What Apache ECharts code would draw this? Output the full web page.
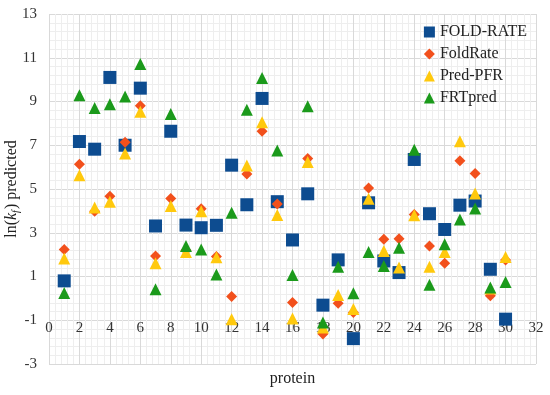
<!DOCTYPE html>
<html><head><meta charset="utf-8">
<script src="https://cdn.jsdelivr.net/npm/echarts@6/dist/echarts.min.js"></script>
<style>html,body{margin:0;padding:0;background:#fff}#c{width:550px;height:395px}</style>
</head><body><div id="c"></div>
<script>
const proteins = [1,2,3,4,5,6,7,8,9,10,11,12,13,14,15,16,17,18,19,20,21,22,23,24,25,26,27,28,29,30];
const foldRATE = [0.8,7.17,6.82,10.1,7.0,9.61,3.31,7.64,3.35,3.23,3.34,6.09,4.28,9.14,4.42,2.67,4.78,-0.31,1.76,-1.84,4.37,1.71,1.18,6.35,3.87,3.15,4.26,4.45,1.33,-0.95];
const foldRate = [2.24,6.13,3.98,4.67,7.14,8.81,1.94,4.57,2.2,4.1,1.92,0.09,5.69,7.64,4.31,-0.19,6.39,-1.63,-0.22,-0.64,5.05,2.7,2.73,3.83,2.4,1.61,6.29,5.71,0.12,1.76];
const predPFR = [1.82,5.63,4.15,4.42,6.62,8.53,1.61,4.22,2.12,3.98,1.88,-0.95,6.07,8.05,3.81,-0.92,6.24,-1.33,0.15,-0.49,4.55,2.17,1.41,3.8,1.45,2.12,7.18,4.8,0.45,1.89];
const frtPred = [0.25,9.29,8.7,8.88,9.23,10.72,0.42,8.43,2.4,2.24,1.09,3.92,8.62,10.08,6.76,1.07,8.78,-1.1,1.45,0.24,2.12,1.48,2.32,6.8,0.62,2.47,3.61,4.11,0.5,0.75];
const seriesNames = ['FOLD-RATE','FoldRate','Pred-PFR','FRTpred'];
const yTicks = {min:-3, max:13, interval:2};
const xTicks = {min:0, max:32, interval:2};

const FONT = '"Liberation Serif", "DejaVu Serif", serif';
const pair = arr => proteins.map((p,i)=>[p, arr[i]]);
const chart = echarts.init(document.getElementById('c'), null, {renderer:'canvas'});
const gridLine = {show:true, lineStyle:{color:'#d9d9d9', width:1}};
const minorLine = {show:true, lineStyle:{color:'#eeeeee', width:1}};
chart.setOption({
  animation:false,
  backgroundColor:'#ffffff',
  textStyle:{fontFamily:FONT},
  grid:{left:49, right:14, top:14, bottom:31, containLabel:false, outerBoundsMode:'none'},
  legend:{
    orient:'vertical', right:18, top:19, itemGap:6, itemWidth:11, itemHeight:11,
    textStyle:{fontFamily:FONT, fontSize:16, color:'#222'},
    data:[
      {name:'FOLD-RATE', icon:'rect'},
      {name:'FoldRate', icon:'diamond'},
      {name:'Pred-PFR', icon:'triangle'},
      {name:'FRTpred', icon:'triangle'}
    ]
  },
  xAxis:{
    type:'value', min:xTicks.min, max:xTicks.max, interval:xTicks.interval,
    offset:-44,
    axisLine:{show:false}, axisTick:{show:false},
    axisLabel:{fontFamily:FONT, fontSize:15, color:'#333', margin:1},
    splitLine:gridLine,
    minorTick:{show:false, splitNumber:5},
    minorSplitLine:minorLine,
    name:'protein', nameLocation:'middle', nameGap:51, nameMoveOverlap:false,
    nameTextStyle:{fontFamily:FONT, fontSize:16, color:'#222'}
  },
  yAxis:{
    type:'value', min:yTicks.min, max:yTicks.max, interval:yTicks.interval,
    axisLine:{show:false}, axisTick:{show:false},
    axisLabel:{fontFamily:FONT, fontSize:15, color:'#333', margin:12},
    splitLine:gridLine,
    minorTick:{show:false, splitNumber:5},
    minorSplitLine:minorLine,
    name:'{n|ln(}{i|k}{s|f}{n|) predicted}', nameLocation:'middle', nameGap:28, nameRotate:90,
    nameMoveOverlap:false,
    nameTextStyle:{
      rich:{
        n:{fontFamily:FONT, fontSize:16, color:'#222'},
        i:{fontFamily:FONT, fontSize:16, fontStyle:'italic', color:'#222'},
        s:{fontFamily:FONT, fontSize:10, fontStyle:'italic', color:'#222', padding:[8,1,0,0]}
      }
    }
  },
  series:[
    {name:seriesNames[0], type:'scatter', symbol:'rect', symbolSize:13, itemStyle:{color:'#0d4c90', opacity:1}, data:pair(foldRATE)},
    {name:seriesNames[1], type:'scatter', symbol:'diamond', symbolSize:11, itemStyle:{color:'#f2501c', opacity:1}, data:pair(foldRate)},
    {name:seriesNames[2], type:'scatter', symbol:'triangle', symbolSize:12, itemStyle:{color:'#ffc90d', opacity:1}, data:pair(predPFR)},
    {name:seriesNames[3], type:'scatter', symbol:'triangle', symbolSize:12, itemStyle:{color:'#1b9a1b', opacity:1}, data:pair(frtPred)}
  ]
});
</script></body></html>
